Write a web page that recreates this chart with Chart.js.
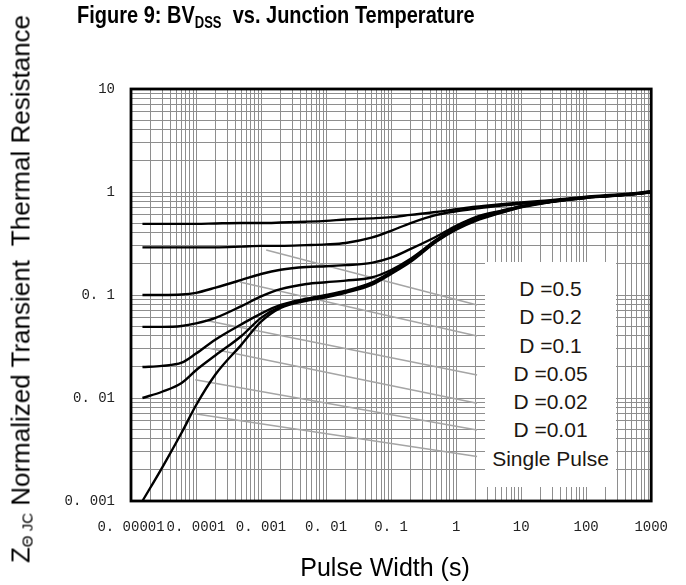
<!DOCTYPE html>
<html>
<head>
<meta charset="utf-8">
<title>Transient Thermal Resistance</title>
<script src="https://cdn.jsdelivr.net/npm/chart.js@4.4.1/dist/chart.umd.min.js"></script>
<style>
    body { margin: 0; background: #fff; }
    #wrap { position: relative; width: 686px; height: 585px; overflow: hidden; }
    #chart { position: absolute; left: 0; top: 0; }
    #title {
        position: absolute; left: 77px; top: 3px; white-space: pre;
        font: bold 20px "Liberation Sans", Arial, sans-serif; color: #000;
        transform: scaleY(1.2); transform-origin: top left; line-height: 20px;
    }
    #title sub { font-size: 13px; vertical-align: -4px; line-height: 0; }
    #ytitle {
        position: absolute; width: 585px; height: 32px; left: -272px; top: 273px;
        transform: rotate(-90deg); text-align: center; white-space: pre;
        font: 26px "Liberation Sans", Arial, sans-serif; color: #000; line-height: 32px;
    }
    #ytitle sub { font-size: 15px; vertical-align: -3px; line-height: 0; }
    #xtitle {
        position: absolute; left: 285px; top: 553px; width: 200px; text-align: center;
        font: 25px "Liberation Sans", Arial, sans-serif; color: #000; line-height: 28px;
    }
    #legend {
        position: absolute; left: 485px; top: 262px; width: 131px; height: 225px;
        background: #fff; box-sizing: border-box; padding-top: 13px; text-align: center;
        font: 21px "Liberation Sans", Arial, sans-serif; color: #1c1712;
    }
    #legend div { height: 28.3px; line-height: 28.3px; }
</style>
</head>
<body>
<div id="wrap">
    <canvas id="chart" width="686" height="585"></canvas>
    <div id="title">Figure 9: BV<sub>DSS</sub>  vs. Junction Temperature</div>
    <div id="ytitle">Z<sub>Θ JC</sub> Normalized Transient  Thermal Resistance</div>
    <div id="xtitle">Pulse Width (s)</div>
    <div id="legend"></div>
</div>

<script>
// Pulse width (s) sample points shared by all curves
const pulseWidth = [1.5e-5, 3e-5, 6e-5, 1e-4, 2e-4, 5e-4, 1e-3, 2e-3, 5e-3, 1e-2, 2e-2, 5e-2,
    0.1, 0.2, 0.5, 1, 2, 5, 10, 20, 50, 100, 200, 500, 1000];

// Normalized Z(theta)JC for each duty cycle
const zD05 = [0.49, 0.49, 0.49, 0.49, 0.495, 0.5, 0.5, 0.505, 0.515, 0.525, 0.54, 0.555,
    0.57, 0.6, 0.64, 0.68, 0.72, 0.76, 0.79, 0.82, 0.86, 0.9, 0.93, 0.97, 1.02];
const zD02 = [0.29, 0.29, 0.29, 0.29, 0.29, 0.295, 0.3, 0.3, 0.305, 0.31, 0.32, 0.36,
    0.42, 0.5, 0.6, 0.65, 0.69, 0.74, 0.77, 0.8, 0.85, 0.89, 0.92, 0.96, 1.01];
const zD01 = [0.1, 0.1, 0.101, 0.105, 0.118, 0.14, 0.16, 0.176, 0.187, 0.19, 0.195, 0.205,
    0.23, 0.28, 0.37, 0.47, 0.57, 0.66, 0.73, 0.78, 0.845, 0.885, 0.915, 0.955, 1.0];
const zD005 = [0.049, 0.049, 0.05, 0.053, 0.06, 0.078, 0.097, 0.114, 0.128, 0.133, 0.138, 0.148,
    0.175, 0.225, 0.345, 0.46, 0.56, 0.65, 0.725, 0.78, 0.845, 0.885, 0.915, 0.955, 1.0];
const zD002 = [0.02, 0.0205, 0.022, 0.027, 0.037, 0.052, 0.066, 0.08, 0.092, 0.1, 0.11, 0.132,
    0.168, 0.22, 0.34, 0.45, 0.545, 0.64, 0.72, 0.78, 0.84, 0.88, 0.91, 0.95, 1.0];
const zD001 = [0.01, 0.0115, 0.014, 0.0186, 0.026, 0.04, 0.06, 0.077, 0.09, 0.097, 0.107, 0.128,
    0.163, 0.215, 0.335, 0.44, 0.535, 0.635, 0.715, 0.775, 0.84, 0.88, 0.91, 0.95, 0.995];
const zSingle = [0.001, 0.0021, 0.0046, 0.0085, 0.017, 0.033, 0.055, 0.075, 0.088, 0.095, 0.105, 0.125,
    0.16, 0.21, 0.33, 0.43, 0.525, 0.63, 0.71, 0.77, 0.835, 0.875, 0.905, 0.945, 0.99];

const curveLabels = ['D =0.5', 'D =0.2', 'D =0.1', 'D =0.05', 'D =0.02', 'D =0.01', 'Single Pulse'];
const curveValues = [zD05, zD02, zD01, zD005, zD002, zD001, zSingle];

// Faint grey guide lines in the background (start / end points)
const guideX = [[1.2e-3, 2.1], [4.7e-4, 2.1], [1.37e-4, 2.1], [1.52e-4, 2.1], [9.7e-5, 2.1], [8.5e-5, 2.1]];
const guideY = [[0.274, 0.080], [0.134, 0.040], [0.057, 0.0167], [0.0306, 0.0089], [0.015, 0.0049], [0.0071, 0.0027]];

// Axis tick labels (one per decade)
const xTickLabels = ['0. 00001', '0. 0001', '0. 001', '0. 01', '0. 1', '1', '10', '100', '1000'];
const yTickLabels = ['0. 001', '0. 01', '0. 1', '1', '10'];

// Build 1..9 x 10^n tick values between two decades
function decadeTicks(minExp, maxExp) {
    const ticks = [];
    for (let e = minExp; e < maxExp; e++) {
        for (let k = 1; k < 10; k++) {
            ticks.push({ value: Number((k * Math.pow(10, e)).toPrecision(6)) });
        }
    }
    ticks.push({ value: Math.pow(10, maxExp) });
    return ticks;
}

// Label only the powers of ten
function decadeLabel(labels, minExp) {
    return function (value) {
        const l = Math.log10(value);
        const r = Math.round(l);
        if (Math.abs(l - r) < 1e-6) {
            return labels[r - minExp];
        }
        return '';
    };
}

// Draw the black frame round the plot area
const framePlugin = {
    id: 'frame',
    afterDraw(chart) {
        const a = chart.chartArea;
        const ctx = chart.ctx;
        ctx.save();
        ctx.strokeStyle = '#000';
        ctx.lineWidth = 2.8;
        ctx.strokeRect(a.left, a.top, a.right - a.left, a.bottom - a.top);
        ctx.restore();
    }
};

function buildDatasets() {
    const sets = curveValues.map((vals, i) => ({
        label: curveLabels[i],
        data: pulseWidth.map((x, j) => ({ x: x, y: vals[j] })),
        borderColor: '#000',
        borderWidth: 2.4,
        pointRadius: 0,
        showLine: true,
        cubicInterpolationMode: 'monotone',
        order: 1
    }));
    guideX.forEach((xs, i) => {
        sets.push({
            label: 'guide' + i,
            data: xs.map((x, j) => ({ x: x, y: guideY[i][j] })),
            borderColor: '#a5a5a5',
            borderWidth: 1.5,
            pointRadius: 0,
            showLine: true,
            order: 2
        });
    });
    return sets;
}

function buildLegend() {
    const box = document.getElementById('legend');
    box.innerHTML = curveLabels.map(t => `<div>${t}</div>`).join('');
}

function createChart() {
    const ctx = document.getElementById('chart');
    const gridColor = '#8e8e8e';
    const tickFont = { family: '"Liberation Mono", "DejaVu Sans Mono", monospace', size: 14 };

    new Chart(ctx, {
        type: 'scatter',
        data: { datasets: buildDatasets() },
        options: {
            responsive: false,
            animation: false,
            layout: { padding: { left: 0, top: 89, right: 20, bottom: 0 } },
            plugins: {
                legend: { display: false },
                tooltip: { enabled: false }
            },
            scales: {
                x: {
                    type: 'logarithmic',
                    min: 1e-5,
                    max: 1000,
                    afterBuildTicks: scale => { scale.ticks = decadeTicks(-5, 3); },
                    afterFit: scale => { scale.height = 84; },
                    grid: { color: gridColor, lineWidth: 1, drawTicks: false, tickLength: 0 },
                    border: { display: false },
                    ticks: {
                        autoSkip: false,
                        maxRotation: 0,
                        padding: 18,
                        color: '#222',
                        font: tickFont,
                        callback: decadeLabel(xTickLabels, -5)
                    }
                },
                y: {
                    type: 'logarithmic',
                    min: 0.001,
                    max: 10,
                    afterBuildTicks: scale => { scale.ticks = decadeTicks(-3, 1); },
                    afterFit: scale => { scale.width = 131; },
                    grid: { color: gridColor, lineWidth: 1, drawTicks: false, tickLength: 0 },
                    border: { display: false },
                    ticks: {
                        autoSkip: false,
                        padding: 16,
                        color: '#222',
                        font: tickFont,
                        callback: decadeLabel(yTickLabels, -3)
                    }
                }
            }
        },
        plugins: [framePlugin]
    });
}

document.addEventListener('DOMContentLoaded', function () {
    buildLegend();
    createChart();
});
</script>
</body>
</html>
